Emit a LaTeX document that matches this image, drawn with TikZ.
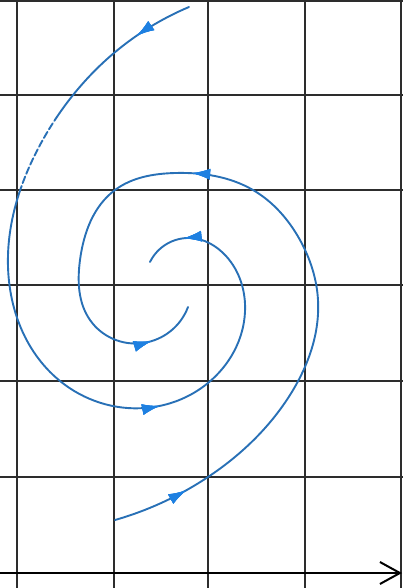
\documentclass[tikz,border=0pt]{standalone}
\usetikzlibrary{arrows.meta,decorations.markings,hobby}
\definecolor{curveblue}{RGB}{40,112,182}
\definecolor{tipblue}{RGB}{30,128,225}
\definecolor{gridgray}{RGB}{45,45,45}
\begin{document}
\begin{tikzpicture}[x=1pt,y=-1pt,
  gridline/.style={line width=1.3pt,draw=gridgray},
  axisline/.style={line width=2.6pt,draw=black},
  traj/.style={line width=1.9pt,draw=curveblue,line cap=round,use Hobby shortcut},
  tipmark/.style={decoration={markings,
      mark=at position #1 with {\arrow{Latex[length=18pt,width=11pt,color=tipblue]}}},
      postaction={decorate}}
]
\useasboundingbox (0,0) rectangle (403,588);
% grid
\foreach \gx in {17,114,208,305,401} \draw[gridline] (\gx,0) -- (\gx,588);
\foreach \gy in {1,95,190,285,381,477} \draw[gridline] (0,\gy) -- (403,\gy);
% axis
\coordinate (axL) at (0,573);
\coordinate (axR) at (402,573);
\draw[axisline,-{Straight Barb[length=20pt,width=22pt,line width=2pt]}] (axL) -- (axR);
% trajectory 1 (outer, from top, spiralling in)
\draw[traj,
  dash pattern=on 179pt off 3pt on 7pt off 3pt on 7pt off 3pt on 7pt off 3pt on 7pt off 3pt on 7pt off 3pt on 7pt off 3pt on 7pt off 3pt on 2000pt,
  tipmark/.list={0.07,0.665,0.95}]
  (189,7) .. (114,53) .. (40,145) .. (8,255) .. (60,381) .. (145,408)
  .. (208,383) .. (245,312) .. (226,256) .. (190,238) .. (150,262);
% trajectory 2 (from bottom, spiralling in)
\draw[traj,tipmark/.list={0.09,0.60,0.94}]
  (115,520) .. (208,477) .. (290,395) .. (318,300) .. (300,240) .. (253,190)
  .. (175,173) .. (115,190) .. (80,260) .. (90,320) .. (143,343) .. (188,307);
\end{tikzpicture}
\end{document}
